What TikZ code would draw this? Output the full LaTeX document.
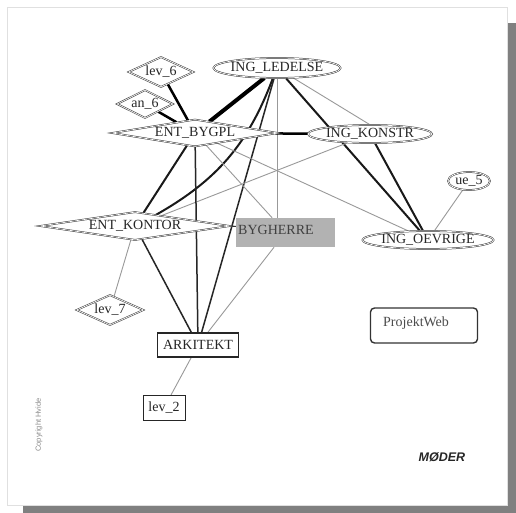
\documentclass[tikz,border=0pt]{standalone}
\usepackage{fontspec}
\setmainfont{Liberation Serif}
\newfontfamily\arialf{Liberation Sans}
\usetikzlibrary{shapes.geometric}
\pgfdeclarelayer{back}
\pgfdeclarelayer{bg}
\pgfsetlayers{back,bg,main}
\begin{document}
\begin{tikzpicture}[x=1pt,y=-1pt,
  lbl/.style={font=\fontsize{14}{16}\selectfont, text=black!85, inner sep=0pt},
  dia/.style={shape=diamond, draw=black!80, fill=white, double, double distance=0.7pt, line width=0.5pt, inner sep=0pt},
  ell/.style={shape=ellipse, draw=black!80, fill=white, double, double distance=0.7pt, line width=0.5pt, inner sep=0pt},
  box/.style={shape=rectangle, draw=black!85, fill=white, line width=1.2pt, inner sep=0pt},
  vthick/.style={line width=4pt, black},
  thk/.style={line width=2.5pt, black},
  mthk/.style={line width=2pt, black!90},
  med/.style={line width=1.5pt, black!85},
  thinb/.style={line width=1pt, black!80},
  thin/.style={line width=0.9pt, black!40}]
\useasboundingbox (0,0) rectangle (516,513);
% page with shadow
\begin{pgfonlayer}{back}
\fill[black!50] (23,23) rectangle (516,513);
\draw[fill=white, draw=black!12, line width=0.8pt] (7,7) rectangle (507,505);
\end{pgfonlayer}

% nodes
\node[dia, minimum width=65pt, minimum height=30pt, label={[lbl]center:lev\_6}] (lev6) at (161,72) {};
\node[dia, minimum width=56pt, minimum height=28pt, label={[lbl]center:an\_6}] (an6) at (145,104) {};
\node[ell, minimum width=127pt, minimum height=20pt, label={[lbl]center:ING\_LEDELSE}] (led) at (277,68) {};
\node[dia, minimum width=166pt, minimum height=27pt, label={[lbl]center:ENT\_BYGPL}] (bygpl) at (195,133) {};
\node[ell, minimum width=124pt, minimum height=18pt, label={[lbl]center:ING\_KONSTR}] (konstr) at (370,134) {};
\node[ell, minimum width=42pt, minimum height=18pt, label={[lbl]center:ue\_5}] (ue5) at (469,181) {};
\node[ell, minimum width=131pt, minimum height=18pt, label={[lbl]center:ING\_OEVRIGE}] (oevr) at (428,240) {};
\node[dia, minimum width=190pt, minimum height=28pt, label={[lbl]center:ENT\_KONTOR}] (kontor) at (135,226) {};
\node[shape=rectangle, fill=black!30, minimum width=99pt, minimum height=29pt, inner sep=0pt] (bygh) at (285.5,232.5) {};
\node[lbl, anchor=west, text=black!75] (byghtxt) at (238,230) {BYGHERRE};
\node[dia, minimum width=67pt, minimum height=30pt, label={[lbl]center:lev\_7}] (lev7) at (110,310) {};
\node[box, minimum width=81pt, minimum height=24pt, label={[lbl]center:ARKITEKT}] (ark) at (198,345) {};
\node[box, line width=1pt, minimum width=42pt, minimum height=25pt, label={[lbl]center:lev\_2}] (lev2) at (164,408) {};
\node[shape=rectangle, rounded corners=4pt, draw=black!80, line width=1.4pt, minimum width=107pt, minimum height=35pt, inner sep=0pt] (pweb) at (424,325.5) {};
\node[lbl, anchor=west, text=black!70] (pwebtxt) at (383,323) {ProjektWeb};
\node[font=\arialf\bfseries\itshape\fontsize{12.5}{14}\selectfont, text=black!85] (moder) at (442,457) {MØDER};
\node[rotate=90, font=\arialf\fontsize{7.5}{9}\selectfont, text=black!45] (copy) at (39,425) {Copyright Hvide};

% connectors
\begin{pgfonlayer}{bg}
\draw[thk] (lev6) -- (bygpl);
\draw[thk] (an6) -- (bygpl);
\draw[vthick] (led) -- (bygpl);
\draw[mthk] (led) to[bend left=20] (kontor);
\draw[med] (led) -- (ark);
\draw[thin] (led.south) -- (led.south |- bygh.north);
\draw[mthk] (led) -- (oevr);
\draw[thin] (led) -- (konstr.north);
\draw[thk] (bygpl) -- (konstr);
\draw[mthk] (konstr) -- (oevr);
\draw[thin] (konstr) -- (kontor);
\draw[thin] (bygpl) -- (oevr);
\draw[thin] (bygpl) -- (bygh);
\draw[mthk] (bygpl) -- (kontor);
\draw[med] (bygpl) -- (ark);
\draw[thinb] (kontor.east) -- (kontor.east -| bygh.west);
\draw[thin] (kontor) -- (lev7);
\draw[med] (kontor) -- (ark);
\draw[thin] (bygh) -- (ark);
\draw[thin] (ark) -- (lev2);
\draw[thin] (ue5) -- (oevr);
\end{pgfonlayer}
\end{tikzpicture}
\end{document}
